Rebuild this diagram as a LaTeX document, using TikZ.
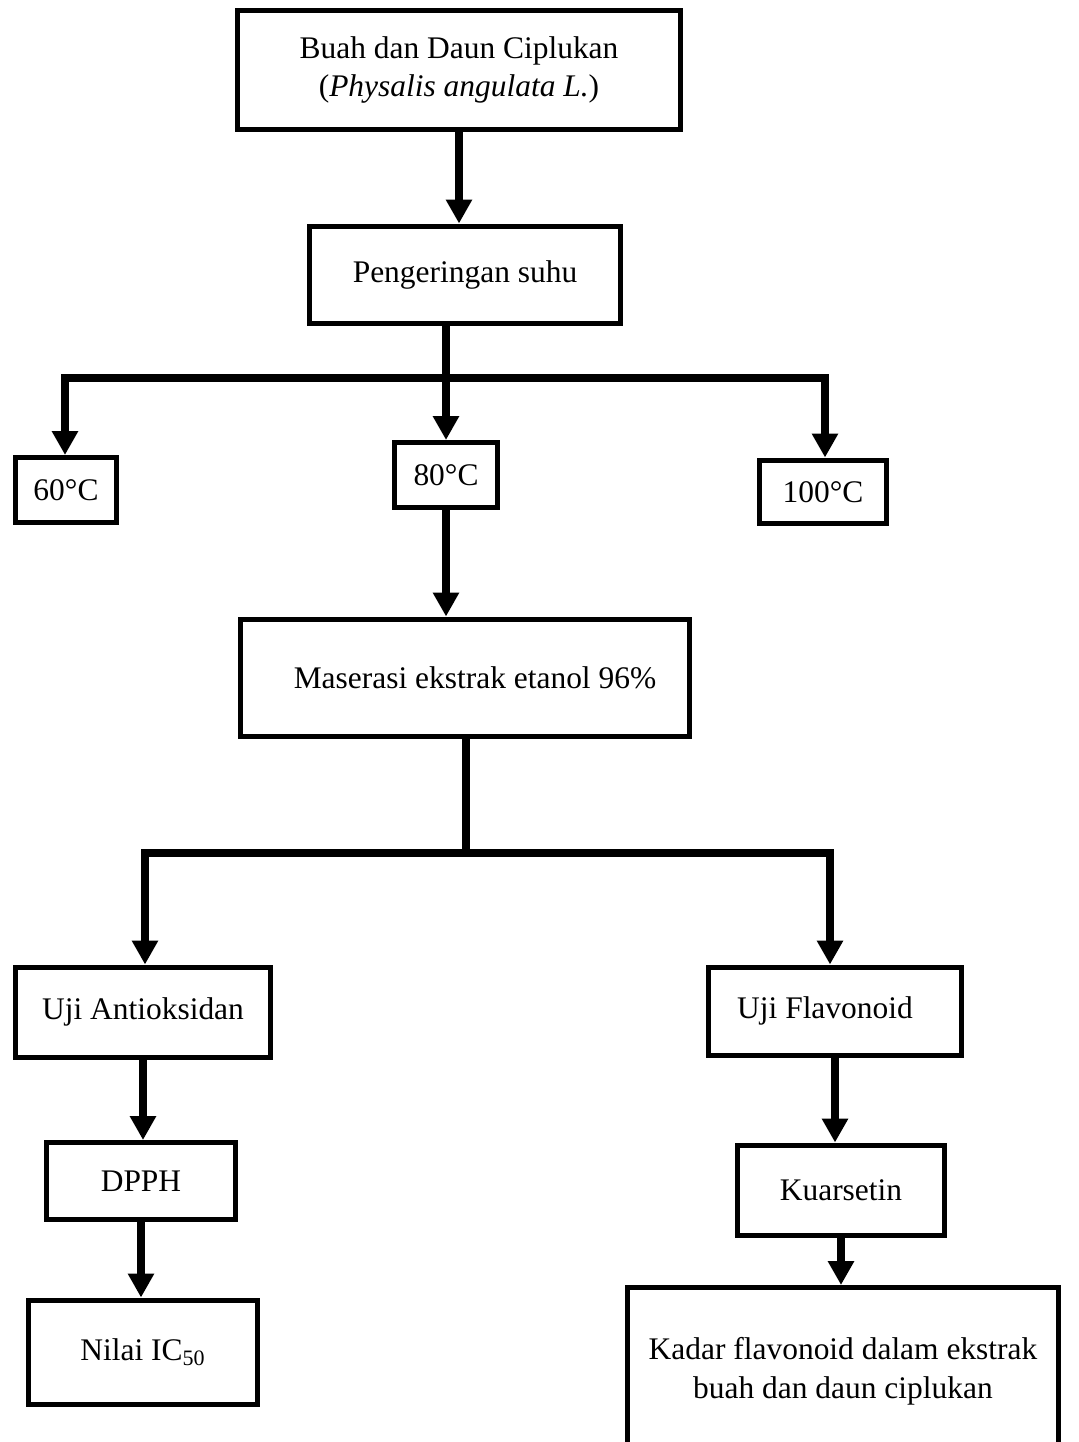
\documentclass[tikz,border=0pt]{standalone}
\usepackage{fontspec}
\setmainfont{Liberation Serif}
\usepackage{tikz}
\usetikzlibrary{arrows.meta}

\tikzset{
    stepbox/.style={draw, line width=0.1cm, inner sep=0pt, align=center,
        font=\fontsize{17.9}{22}\selectfont},
    flow/.style={line width=0.16cm, -{Triangle[length=0.48cm,width=0.5cm]}},
    branch/.style={line width=0.16cm, line cap=rect}
}

\begin{document}
\begin{tikzpicture}[x=0.02cm, y=-0.02cm]
                % page frame
                \useasboundingbox (0,0) rectangle (1078,1442);
                \clip (0,0) rectangle (1078,1442);

                % Boxes
                \node[stepbox, minimum width=8.86cm, minimum height=2.38cm] (src) at (459,70)
                    {Buah dan Daun Ciplukan\\(\textit{Physalis angulata L.})};
                \node[stepbox, minimum width=6.24cm, minimum height=1.96cm] (dry) at (465,275) {Pengeringan suhu};
                \node[stepbox, minimum width=2.04cm, minimum height=1.3cm] (t60) at (66,490) {60°C};
                \node[stepbox, minimum width=2.06cm, minimum height=1.3cm] (t80) at (446,475) {80°C};
                \node[stepbox, minimum width=2.54cm, minimum height=1.28cm] (t100) at (823,492) {100°C};
                \node[stepbox, minimum width=9cm, minimum height=2.36cm] (mac) at (465,678) {\hspace{0.4cm}Maserasi ekstrak etanol 96\%};
                \node[stepbox, minimum width=5.1cm, minimum height=1.8cm] (antiox) at (143,1012) {Uji Antioksidan};
                \node[stepbox, minimum width=5.08cm, minimum height=1.76cm] (flav) at (835,1011) {Uji Flavonoid\hspace{0.4cm}};
                \node[stepbox, minimum width=3.78cm, minimum height=1.54cm] (dpph) at (141,1181) {DPPH};
                \node[stepbox, minimum width=4.6cm, minimum height=2.08cm] (ic) at (143,1352) {Nilai IC\textsubscript{50}};
                \node[stepbox, minimum width=4.14cm, minimum height=1.8cm] (kuar) at (841,1190) {Kuarsetin};
                \node[stepbox, minimum width=8.62cm, minimum height=3.34cm] (kadar) at (843,1371)
                    {Kadar flavonoid dalam ekstrak\\buah dan daun ciplukan};

                % Branch points
                \coordinate (barL) at (65,378);
                \coordinate (barR) at (825,378);
                \coordinate (mjoin) at (466,853);
                \coordinate (splitL) at (145,853);
                \coordinate (splitR) at (830,853);

                % Connectors
                \draw[flow] (src.south) -- (src.south |- dry.north);
                \draw[branch] (barL) -- (barR);
                \draw[flow] (barL) -- (barL |- t60.north);
                \draw[flow] (dry.south -| t80) -- (t80.north);
                \draw[flow] (barR) -- (barR |- t100.north);
                \draw[flow] (t80.south) -- (t80.south |- mac.north);

                \draw[branch] (mac.south -| mjoin) -- (mjoin);
                \draw[branch] (splitL) -- (splitR);
                \draw[flow] (splitL) -- (splitL |- antiox.north);
                \draw[flow] (splitR) -- (splitR |- flav.north);

                \draw[flow] (antiox.south) -- (antiox.south |- dpph.north);
                \draw[flow] (dpph.south) -- (dpph.south |- ic.north);
                \draw[flow] (flav.south) -- (flav.south |- kuar.north);
                \draw[flow] (kuar.south) -- (kuar.south |- kadar.north);
\end{tikzpicture}
\end{document}
